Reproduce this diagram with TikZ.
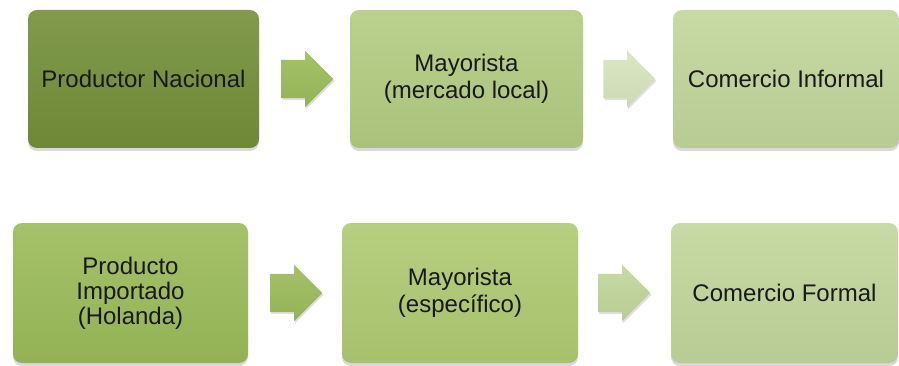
\documentclass[tikz,border=0pt]{standalone}
\usepackage{fontspec}
\setmainfont{Liberation Sans}
\usepackage{tikz}
\usetikzlibrary{shapes.arrows}
\usetikzlibrary{shadows}
\usetikzlibrary{calc}
\definecolor{greenA}{HTML}{738F39}
\definecolor{greenB}{HTML}{B3CC82}
\definecolor{greenC}{HTML}{C2D69B}
\definecolor{greenD}{HTML}{9BBB59}
\definecolor{greenE}{HTML}{AFCA72}
\definecolor{greenF}{HTML}{D7E4BD}
\tikzstyle{stage}=[rounded corners=9pt, minimum width=231pt, minimum height=138pt, align=center,
  text=black!90, font=\fontsize{24}{27}\selectfont,
  drop shadow={shadow xshift=0pt, shadow yshift=-3pt, opacity=0.3}]
\tikzstyle{flow}=[single arrow, anchor=tail, inner xsep=0pt, inner ysep=19pt, minimum height=52pt,
  single arrow head extend=9pt, single arrow head indent=0pt,
  drop shadow={shadow xshift=1pt, shadow yshift=-2pt, opacity=0.25}]
\tikzset{tint/.style={top color=#1!90!white, bottom color=#1!95!black}}

\begin{document}
\begin{tikzpicture}[x=1pt, y=-1pt]
        \useasboundingbox (0,0) rectangle (899,366);
        % national product chain
        \node[stage, tint=greenA]                      (prod)  at (143.5, 79) {Productor Nacional};
        \node[stage, tint=greenB, minimum width=233pt] (mayl)  at (466.5, 79) {Mayorista\\(mercado local)};
        \node[stage, tint=greenC, minimum width=226pt] (infor) at (786, 79)   {Comercio Informal};
        % imported product chain
        \node[stage, tint=greenD, minimum width=235pt, minimum height=140pt] (impo) at (130.5, 293) {Producto\\[-2pt]Importado\\[-2pt](Holanda)};
        \node[stage, tint=greenE, minimum width=236pt, minimum height=140pt] (maye) at (460, 293)   {Mayorista\\(espec\'ifico)};
        \node[stage, tint=greenC, minimum width=227pt, minimum height=140pt] (form) at (784.5, 293) {Comercio Formal};
        \node[flow, tint=greenD] (f1) at ($(prod.east)+(22,0)$) {};
        \node[flow, tint=greenF] (f2) at ($(mayl.east)+(20,0)$) {};
        \node[flow, tint=greenD] (f3) at ($(impo.east)+(22,0)$) {};
        \node[flow, tint=greenC] (f4) at ($(maye.east)+(20,0)$) {};
    \end{tikzpicture}
\end{document}
